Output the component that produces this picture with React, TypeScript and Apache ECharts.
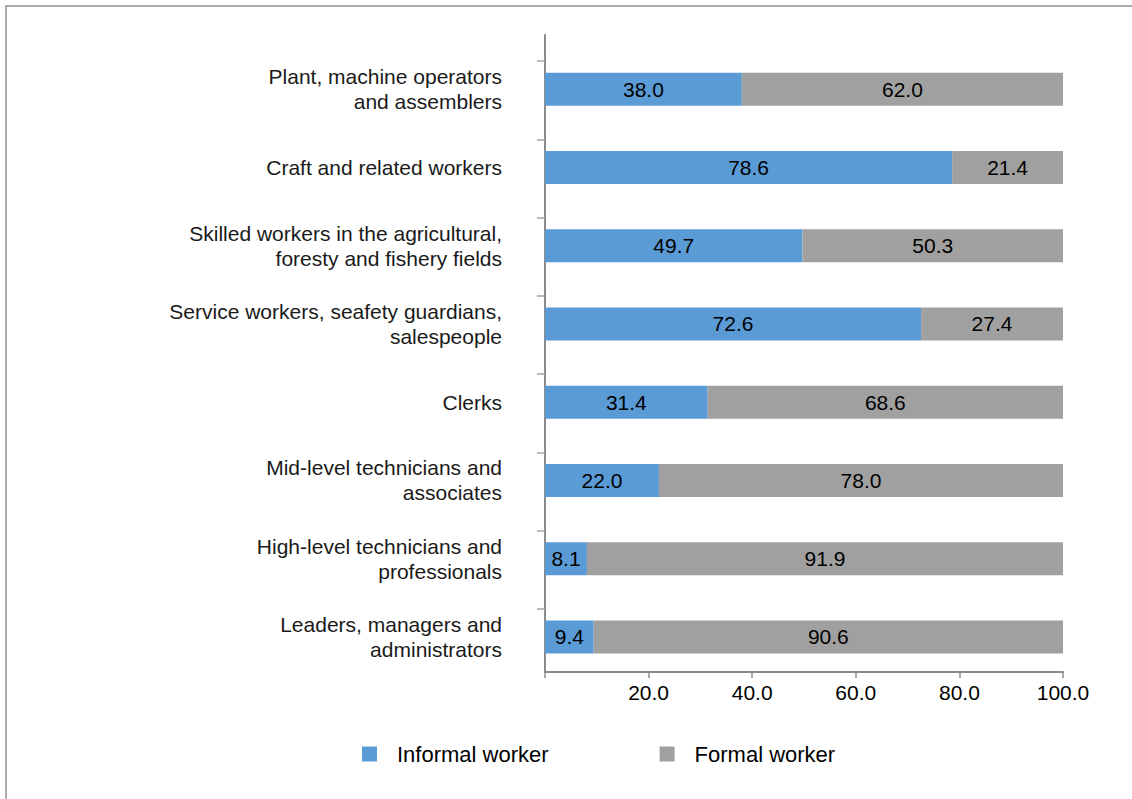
import React, { useEffect, useRef } from "react";
import * as echarts from "echarts";

const categories = [
  "Plant, machine operators\nand assemblers",
  "Craft and related workers",
  "Skilled workers in the agricultural,\nforesty and fishery fields",
  "Service workers, seafety guardians,\nsalespeople",
  "Clerks",
  "Mid-level technicians and\nassociates",
  "High-level technicians and\nprofessionals",
  "Leaders, managers and\nadministrators",
];
const informal = [38.0, 78.6, 49.7, 72.6, 31.4, 22.0, 8.1, 9.4];
const formal = [62.0, 21.4, 50.3, 27.4, 68.6, 78.0, 91.9, 90.6];
const seriesNames = ["Informal worker", "Formal worker"];
const xTicks = { min: 0, max: 100, interval: 20 };

const FONT = "'Liberation Sans', Arial, sans-serif";
const BLUE = "#5B9BD5";
const GRAY = "#A0A0A0";
const AXIS = "#8A8A8A";

export default function App() {
  const ref = useRef<HTMLDivElement>(null);
  useEffect(() => {
    if (!ref.current) return;
    const chart = echarts.init(ref.current, null, { renderer: "svg" });
    const labelStyle = {
      show: true,
      position: "inside",
      color: "#000",
      fontSize: 21,
      fontFamily: FONT,
      formatter: (p: any) => Number(p.value).toFixed(1),
    };
    chart.setOption({
      animation: false,
      textStyle: { fontFamily: FONT },
      graphic: [
        {
          type: "rect",
          shape: { x: 6, y: 6, width: 1300, height: 1000 },
          style: { fill: "none", stroke: "#ABABAB", lineWidth: 2 },
          silent: true,
          z: -10,
        },
      ],
      legend: {
        data: seriesNames,
        left: 362,
        top: 743,
        padding: 0,
        icon: "rect",
        itemWidth: 15,
        itemHeight: 15,
        itemGap: 111,
        textStyle: { fontSize: 22, color: "#000", fontFamily: FONT, padding: [0, 0, 0, 15] },
      },
      grid: [
        { left: 545, width: 518, top: 50, height: 626 },
        { left: 545, width: 518, top: 35, height: 637 },
        { left: 545, width: 518, top: 61, height: 548 },
      ],
      xAxis: [
        { gridIndex: 0, type: "value", min: xTicks.min, max: xTicks.max, show: false },
        {
          gridIndex: 1,
          type: "value",
          min: xTicks.min,
          max: xTicks.max,
          interval: xTicks.interval,
          axisLine: { show: true, onZero: false, lineStyle: { color: AXIS, width: 2 } },
          axisTick: { show: true, length: 6, lineStyle: { color: AXIS, width: 1.5 } },
          splitLine: { show: false },
          axisLabel: {
            margin: 10,
            fontSize: 21,
            color: "#000",
            fontFamily: FONT,
            formatter: (v: number) => (v === 0 ? "" : v.toFixed(1)),
          },
        },
        { gridIndex: 2, type: "value", min: 0, max: 100, show: false },
      ],
      yAxis: [
        {
          gridIndex: 0,
          type: "category",
          inverse: true,
          data: categories,
          axisLine: { show: false },
          axisTick: { show: false },
          axisLabel: {
            margin: 43,
            fontSize: 21,
            lineHeight: 25,
            color: "#1a1a1a",
            fontFamily: FONT,
            align: "right",
          },
        },
        {
          gridIndex: 1,
          type: "value",
          min: 0,
          max: 1,
          axisLine: { show: true, onZero: false, lineStyle: { color: AXIS, width: 2 } },
          axisTick: { show: false },
          axisLabel: { show: false },
          splitLine: { show: false },
        },
        {
          gridIndex: 2,
          type: "category",
          data: ["", "", "", "", "", "", ""],
          axisLine: { show: false },
          axisTick: { show: true, length: 8, lineStyle: { color: "#A6A6A6", width: 1.5 } },
          axisLabel: { show: false },
          splitLine: { show: false },
        },
      ],
      series: [
        {
          name: seriesNames[0],
          type: "bar",
          stack: "total",
          xAxisIndex: 0,
          yAxisIndex: 0,
          barWidth: 33,
          data: informal,
          itemStyle: { color: BLUE },
          label: labelStyle,
        },
        {
          name: seriesNames[1],
          type: "bar",
          stack: "total",
          xAxisIndex: 0,
          yAxisIndex: 0,
          barWidth: 33,
          data: formal,
          itemStyle: { color: GRAY },
          label: labelStyle,
        },
      ],
    });
    return () => chart.dispose();
  }, []);
  return (
    <div
      ref={ref}
      style={{ position: "absolute", left: 0, top: 0, width: 1132, height: 799, background: "#fff" }}
    />
  );
}
